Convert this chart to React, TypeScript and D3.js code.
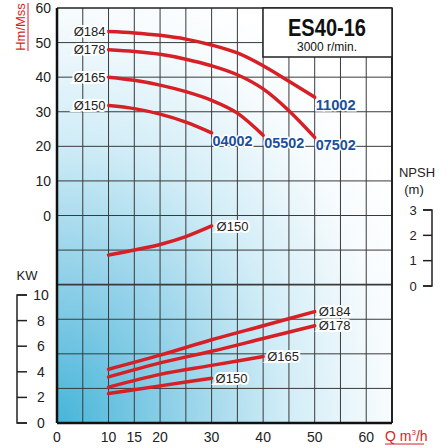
import React from "react";
import * as d3 from "d3";

// flow points (m3/h)
const qHead = [10, 15, 20, 25, 30, 35, 40, 45, 50];

// head curves (m) per impeller diameter
const head184 = [53.2, 52.8, 52.1, 51.0, 49.3, 47.0, 43.3, 38.8, 34.2];
const head178 = [47.9, 47.4, 46.6, 45.2, 43.3, 40.7, 36.6, 30.3, 22.6];
const head165 = [40.0, 39.1, 37.7, 35.8, 33.3, 29.6, 23.2];
const head150 = [31.8, 30.9, 29.3, 27.0, 23.9];

// npsh (m)
const npsh150 = [1.22, 1.42, 1.64, 1.95, 2.37];

// power curves (kW)
const qKw = [10, 20, 30, 40, 50];
const kw184 = [4.2, 5.3, 6.5, 7.6, 8.7];
const kw178 = [3.6, 4.7, 5.6, 6.6, 7.6];
const kw165 = [2.8, 3.8, 4.5, 5.2];
const kw150 = [2.3, 2.9, 3.5];

const headSeries = [
  { label: "Ø184", model: "11002", values: head184 },
  { label: "Ø178", model: "07502", values: head178 },
  { label: "Ø165", model: "05502", values: head165 },
  { label: "Ø150", model: "04002", values: head150 },
];
const kwSeries = [
  { label: "Ø184", values: kw184 },
  { label: "Ø178", values: kw178 },
  { label: "Ø165", values: kw165 },
  { label: "Ø150", values: kw150 },
];

const qTicks = [0, 10, 15, 20, 30, 40, 50, 60];
const headTicks = [0, 10, 20, 30, 40, 50, 60];
const kwTicks = [0, 2, 4, 6, 8, 10];
const npshTicks = [0, 1, 2, 3];

const FONT = "'Liberation Sans', Arial, sans-serif";
const RED = "#d71f26";
const BLUE = "#1b4f9b";

const App: React.FC = () => {
  const left = 57, right = 392, top = 8, bottom = 423;

  const x = d3.scaleLinear().domain([0, 65]).range([left, right]);
  const yHead = d3.scaleLinear().domain([-60, 60]).range([bottom, top]);
  const yKw = d3.scaleLinear().domain([0, 10]).range([423, 295]);
  const yNpsh = d3.scaleLinear().domain([0, 3]).range([286, 210]);

  const lineOf = (ys: d3.ScaleLinear<number, number>, qs: number[]) =>
    d3.line<number>()
      .x((_, i) => x(qs[i]))
      .y((d) => ys(d))
      .curve(d3.curveMonotoneX);

  const vGrid = d3.range(5, 65, 5);
  const hGrid = d3.range(-50, 60, 10);

  return (
    <svg width={448} height={448} style={{ position: "absolute", left: 0, top: 0 }} fontFamily={FONT}>
      <defs>
        <radialGradient id="bg" cx="0" cy="1" r="1.15">
          <stop offset="0" stopColor="#46b5d9" />
          <stop offset="0.3" stopColor="#8fd0e8" />
          <stop offset="0.6" stopColor="#d2edf7" />
          <stop offset="0.85" stopColor="#f6fbfd" />
          <stop offset="1" stopColor="#ffffff" />
        </radialGradient>
      </defs>
      <rect x={0} y={0} width={448} height={448} fill="#fff" />
      <rect x={left} y={top} width={right - left} height={bottom - top} fill="url(#bg)" />

      {vGrid.map((v) => (
        <line key={"v" + v} x1={x(v)} x2={x(v)} y1={top} y2={bottom} stroke="#3a3a3a" strokeWidth={1} />
      ))}
      {hGrid.map((v) => (
        <line key={"h" + v} x1={left} x2={right} y1={yHead(v)} y2={yHead(v)} stroke="#3a3a3a"
          strokeWidth={v === -20 ? 1.6 : 1} />
      ))}

      {/* frame */}
      <line x1={left} x2={right} y1={top} y2={top} stroke="#222" strokeWidth={1.5} />
      <line x1={right} x2={right} y1={top} y2={bottom} stroke="#222" strokeWidth={2} />
      <line x1={left} x2={right} y1={bottom} y2={bottom} stroke="#111" strokeWidth={2.5} />
      <line x1={left} x2={left} y1={top} y2={bottom} stroke="#111" strokeWidth={2.5} />

      {/* title box */}
      <rect x={263} y={top} width={right - 263} height={49} fill="#fff" stroke="#222" strokeWidth={1.5} />
      <text x={327} y={36} textAnchor="middle" fontSize={23} fontWeight="bold" textLength={78}
        lengthAdjust="spacingAndGlyphs" fill="#111">ES40-16</text>
      <text x={327} y={51} textAnchor="middle" fontSize={12} fill="#111">3000 r/min.</text>

      {/* head curves */}
      {headSeries.map((s) => {
        const qs = qHead.slice(0, s.values.length);
        const last = s.values.length - 1;
        return (
          <g key={"hd" + s.label}>
            <path d={lineOf(yHead, qs)(s.values) || ""} fill="none" stroke={RED} strokeWidth={3.5} strokeLinecap="round" />
            <text x={x(qs[0]) - 3} y={yHead(s.values[0])} dy="0.35em" textAnchor="end" fontSize={13}
              fill="#222" stroke="#fff" strokeWidth={4} paintOrder="stroke">{s.label}</text>
            <text x={x(qs[last]) + 1} y={yHead(s.values[last]) + 13} fontSize={15} fontWeight="bold"
              fill={BLUE} stroke="#fff" strokeWidth={3} paintOrder="stroke"
              textLength={40} lengthAdjust="spacingAndGlyphs">{s.model}</text>
          </g>
        );
      })}

      {/* npsh curve */}
      <path d={lineOf(yNpsh, qHead.slice(0, npsh150.length))(npsh150) || ""} fill="none" stroke={RED}
        strokeWidth={3.5} strokeLinecap="round" />
      <text x={x(30) + 5} y={yNpsh(npsh150[npsh150.length - 1])} dy="0.35em" fontSize={13} fill="#222"
        stroke="#fff" strokeWidth={4} paintOrder="stroke">Ø150</text>

      {/* power curves */}
      {kwSeries.map((s) => {
        const qs = qKw.slice(0, s.values.length);
        const last = s.values.length - 1;
        return (
          <g key={"kw" + s.label}>
            <path d={lineOf(yKw, qs)(s.values) || ""} fill="none" stroke={RED} strokeWidth={3.5} strokeLinecap="round" />
            <text x={x(qs[last]) + 4} y={yKw(s.values[last])} dy="0.35em" fontSize={13} fill="#222"
              stroke="#fff" strokeWidth={4} paintOrder="stroke">{s.label}</text>
          </g>
        );
      })}

      {/* head axis */}
      {headTicks.map((t) => (
        <text key={"ht" + t} x={51} y={yHead(t)} dy="0.36em" textAnchor="end" fontSize={14} fill="#222">{t}</text>
      ))}
      <g transform="translate(25,27) rotate(-90)">
        <text x={0} y={0} textAnchor="middle" fontSize={13} fill={RED}>Hm/Mss</text>
      </g>
      <line x1={28} x2={28} y1={3} y2={51} stroke={RED} strokeWidth={1} />

      {/* kW axis */}
      <text x={27} y={280} textAnchor="middle" fontSize={13} fill="#222">KW</text>
      <path d={`M27,${yKw(10)}H17V${yKw(0)}H27`} fill="none" stroke="#222" strokeWidth={1.5} />
      {kwTicks.map((t) => (
        <g key={"kt" + t}>
          <line x1={17} x2={27} y1={yKw(t)} y2={yKw(t)} stroke="#222" strokeWidth={1.5} />
          <text x={41} y={yKw(t)} dy="0.36em" textAnchor="middle" fontSize={14} fill="#222">{t}</text>
        </g>
      ))}

      {/* npsh axis */}
      <text x={417} y={177} textAnchor="middle" fontSize={13} fill="#222">NPSH</text>
      <text x={414} y={194} textAnchor="middle" fontSize={13} fill="#222">(m)</text>
      <path d={`M423,${yNpsh(3)}H432V${yNpsh(0)}H423`} fill="none" stroke="#222" strokeWidth={1.5} />
      {npshTicks.map((t) => (
        <g key={"nt" + t}>
          <line x1={423} x2={432} y1={yNpsh(t)} y2={yNpsh(t)} stroke="#222" strokeWidth={1.5} />
          <text x={413} y={yNpsh(t)} dy="0.36em" textAnchor="middle" fontSize={13} fill="#222">{t}</text>
        </g>
      ))}

      {/* Q axis */}
      {qTicks.map((t) => (
        <text key={"qt" + t} x={x(t)} y={442} textAnchor="middle" fontSize={14} fill="#222">{t}</text>
      ))}
      <text x={385} y={441} fontSize={14} fill={RED}>
        Q m<tspan fontSize={8} dy={-6}>3</tspan><tspan dy={6}>/h</tspan>
      </text>
      <line x1={385} x2={424} y1={444} y2={444} stroke={RED} strokeWidth={1} />
    </svg>
  );
};

export default App;
